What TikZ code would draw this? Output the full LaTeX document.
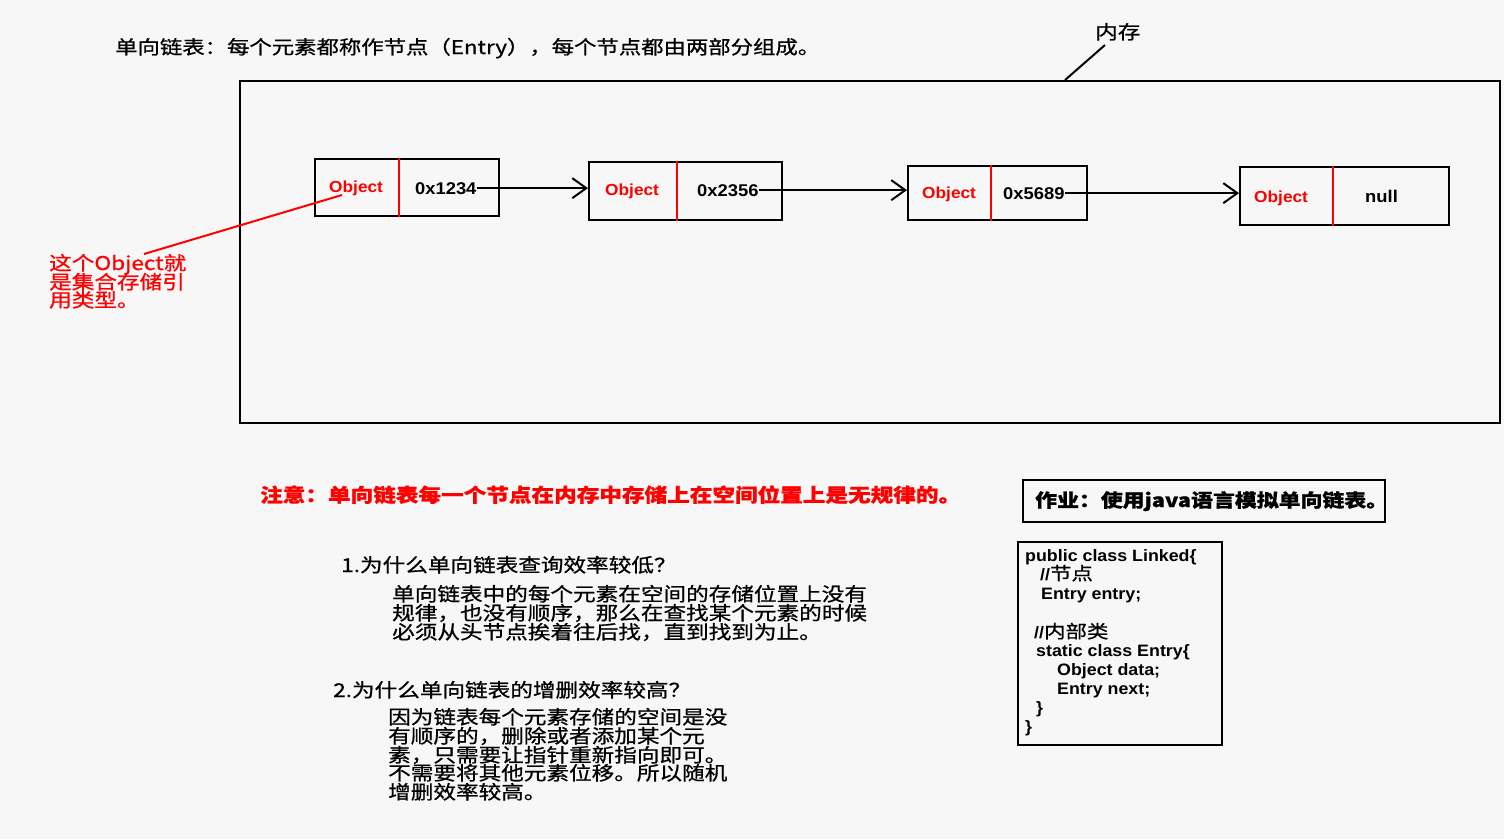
\documentclass[tikz,border=0pt]{standalone}
\usepackage{fontspec}
\usetikzlibrary{arrows.meta}
\newfontfamily\cjk[FakeStretch=1.19, FakeBold=0.8]{Noto Sans CJK SC}
\newfontfamily\lat[FakeStretch=1.08]{Liberation Sans}
\definecolor{bg}{HTML}{F7F7F7}
\definecolor{rd}{HTML}{FF0000}
\begin{document}
\begin{tikzpicture}[x=1pt,y=-1pt,
  cjkt/.style={font=\cjk\fontsize{19}{19}\selectfont, inner sep=0pt, anchor=base west},
  cjkb/.style={font=\cjk\bfseries\fontsize{19}{19}\selectfont, inner sep=0pt, anchor=base west},
  objt/.style={font=\lat\bfseries\fontsize{16}{16}\selectfont, text=rd, inner sep=0pt, anchor=base west},
  hext/.style={font=\lat\bfseries\fontsize{17}{17}\selectfont, inner sep=0pt, anchor=base west},
  codet/.style={font=\lat\bfseries\fontsize{16.5}{16.5}\selectfont, inner sep=0pt, anchor=base west},
  cbox/.style={draw=black, line width=2pt, anchor=north west, inner sep=0pt},
  divl/.style={draw=rd, line width=2pt},
  link/.style={draw=black, line width=2pt, -{Straight Barb[length=14pt,width=20pt]}},
]
\useasboundingbox (0,0) rectangle (1504,839);
\fill[bg] (0,0) rectangle (1504,839);

% title
\node[cjkt, font=\cjk\fontsize{18.8}{19}\selectfont] (title) at (115,54) {单向链表：每个元素都称作节点（Entry），每个节点都由两部分组成。};

% memory box
\node[cbox, minimum width=1260pt, minimum height=342pt] (mem) at (239,80) {};
\node[cjkt] (memlabel) at (1095,39) {内存};
\coordinate (mlA) at (1105,45);
\coordinate (mlB) at (1065,80);
\draw[line width=2pt] (mlA) -- (mlB);

% list nodes
\node[cbox, minimum width=184pt, minimum height=57pt] (b1) at (314,158) {};
\node[cbox, minimum width=193pt, minimum height=58pt] (b2) at (588,161) {};
\node[cbox, minimum width=179pt, minimum height=54pt] (b3) at (907,165) {};
\node[cbox, minimum width=209pt, minimum height=58pt] (b4) at (1239,166) {};
\draw[divl] (399,0 |- b1.north) -- (399,0 |- b1.south);
\draw[divl] (677,0 |- b2.north) -- (677,0 |- b2.south);
\draw[divl] (991,0 |- b3.north) -- (991,0 |- b3.south);
\draw[divl] (1333,0 |- b4.north) -- (1333,0 |- b4.south);

\node[objt] (o1) at (329,192) {Object};
\node[hext] (h1) at (415,194) {0x1234};
\node[objt] (o2) at (605,195) {Object};
\node[hext] (h2) at (697,196) {0x2356};
\node[objt] (o3) at (922,198) {Object};
\node[hext] (h3) at (1003,199) {0x5689};
\node[objt] (o4) at (1254,202) {Object};
\node[hext] (h4) at (1365,202) {null};

\draw[link] (h1.east) -- (h1.east -| b2.west);
\draw[link] (h2.east) -- (h2.east -| b3.west);
\draw[link] (h3.east) -- (h3.east -| b4.west);

% red annotation
\coordinate (rA) at (342,195);
\coordinate (rB) at (144,254);
\draw[rd, line width=2pt] (rA) -- (rB);
\node[cjkt, text=rd] (r1) at (49,270) {这个Object就};
\node[cjkt, text=rd] (r2) at (49,289) {是集合存储引};
\node[cjkt, text=rd] (r3) at (49,307) {用类型。};

% notice
\node[cjkb, text=rd] (notice) at (260,502) {注意：单向链表每一个节点在内存中存储上在空间位置上是无规律的。};

% questions
\node[cjkt] (q1) at (341,572) {1.为什么单向链表查询效率较低？};
\node[cjkt] (a11) at (392,601) {单向链表中的每个元素在空间的存储位置上没有};
\node[cjkt] (a12) at (392,620) {规律，也没有顺序，那么在查找某个元素的时候};
\node[cjkt] (a13) at (392,639) {必须从头节点挨着往后找，直到找到为止。};

\node[cjkt] (q2) at (333,697) {2.为什么单向链表的增删效率较高？};
\node[cjkt] (a21) at (388,724) {因为链表每个元素存储的空间是没};
\node[cjkt] (a22) at (388,743) {有顺序的，删除或者添加某个元};
\node[cjkt] (a23) at (388,762) {素，只需要让指针重新指向即可。};
\node[cjkt] (a24) at (388,780) {不需要将其他元素位移。所以随机};
\node[cjkt] (a25) at (388,799) {增删效率较高。};

% homework
\node[cbox, minimum width=362pt, minimum height=42pt] (hw) at (1022,479) {};
\node[cjkb, font=\cjk\bfseries\fontsize{18.4}{19}\selectfont] (hwt) at (1035,507) {作业：使用java语言模拟单向链表。};

% code
\node[cbox, minimum width=204pt, minimum height=203pt] (code) at (1017,541) {};
\node[codet] (c1) at (1025,561) {public class Linked\{};
\node[codet] (c2) at (1040,580) {//{\cjk\mdseries\fontsize{18}{18}\selectfont 节点}};
\node[codet] (c3) at (1041,599) {Entry entry;};
\node[codet] (c4) at (1034,638) {//{\cjk\mdseries\fontsize{18}{18}\selectfont 内部类}};
\node[codet] (c5) at (1036,656) {static class Entry\{};
\node[codet] (c6) at (1057,675) {Object data;};
\node[codet] (c7) at (1057,694) {Entry next;};
\node[codet] (c8) at (1036,713) {\}};
\node[codet] (c9) at (1025,732) {\}};
\end{tikzpicture}
\end{document}
